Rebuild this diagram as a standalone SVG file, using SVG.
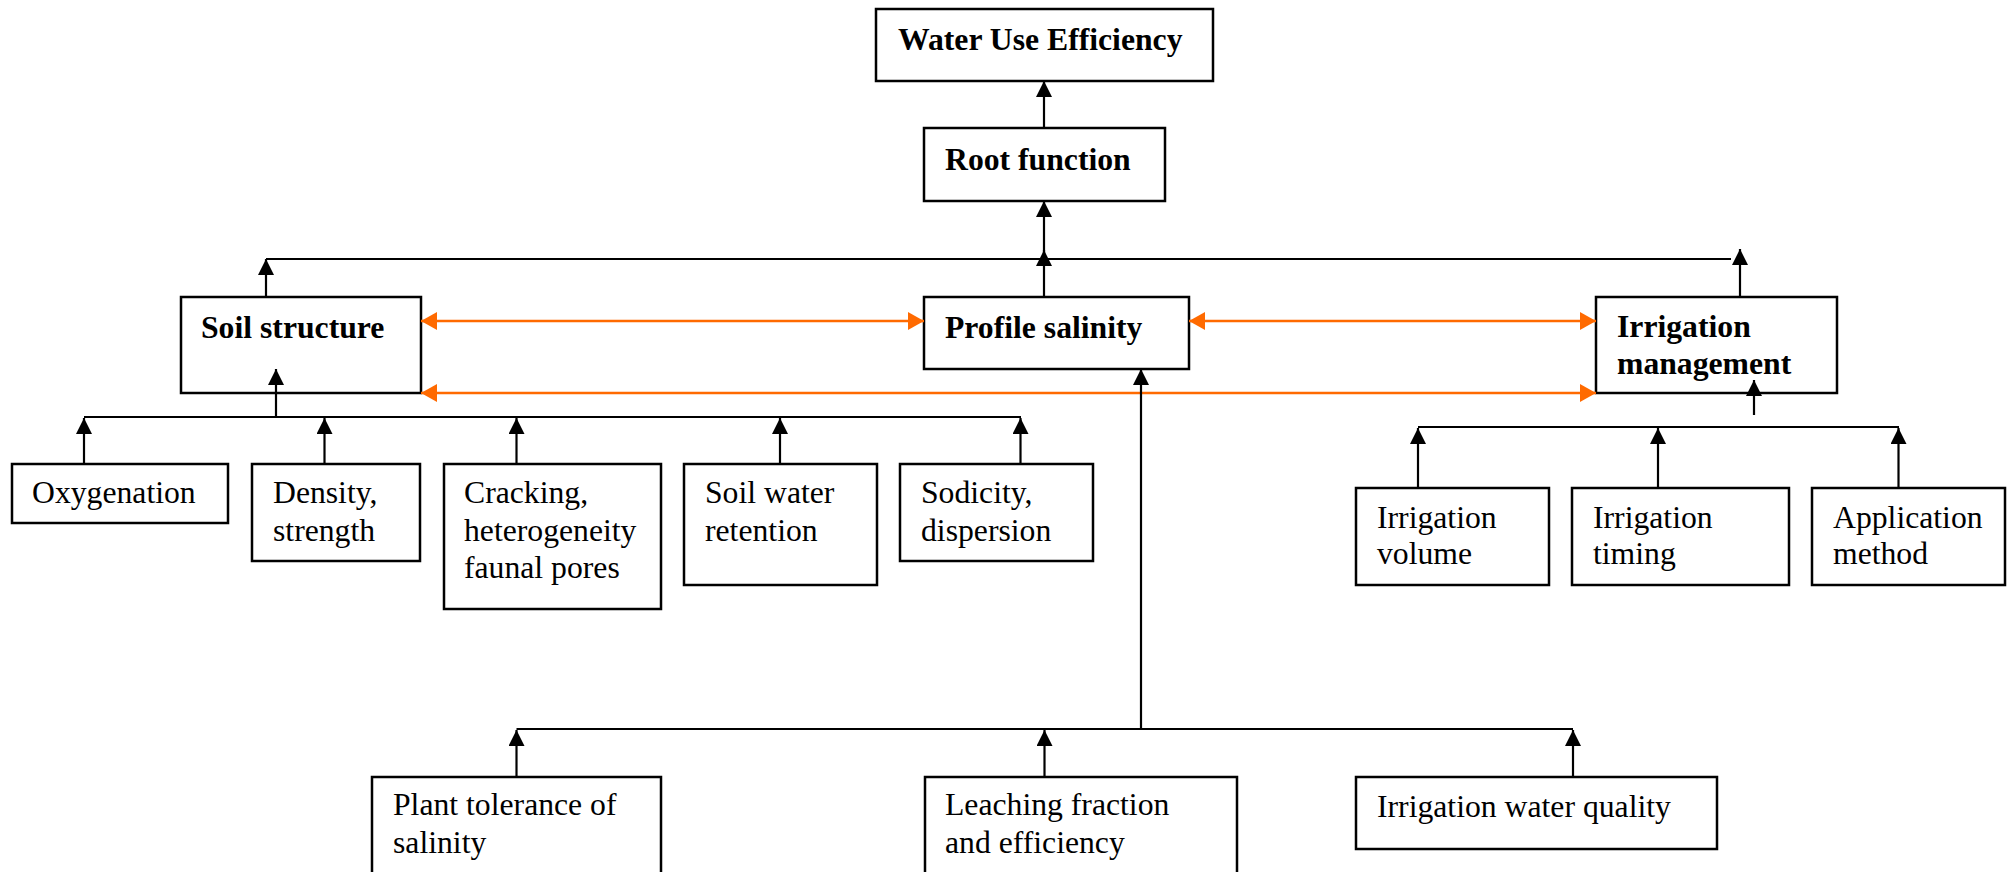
<svg xmlns="http://www.w3.org/2000/svg" width="2011" height="872" viewBox="0 0 2011 872">
<defs>
<style>
.box{fill:#fff;stroke:#000;stroke-width:2.5}
.t{font-family:"Liberation Serif","Times New Roman",serif;font-size:31.7px;fill:#000}
.b{font-weight:bold}
.ln{stroke:#000;stroke-width:2.2;fill:none}
.or{stroke:#FF6A00;stroke-width:2.6;fill:none}
</style>
<marker id="ah" markerUnits="userSpaceOnUse" viewBox="0 0 16 16" markerWidth="16" markerHeight="16" refX="16" refY="8" orient="auto">
<path d="M0,0 L16,8 L0,16 z" fill="#000"/>
</marker>
<marker id="oh" markerUnits="userSpaceOnUse" viewBox="0 0 16 18" markerWidth="16" markerHeight="18" refX="16" refY="9" orient="auto">
<path d="M0,0 L16,9 L0,18 z" fill="#FF6A00"/>
</marker>
<marker id="ohs" markerUnits="userSpaceOnUse" viewBox="0 0 16 18" markerWidth="16" markerHeight="18" refX="16" refY="9" orient="auto-start-reverse">
<path d="M0,0 L16,9 L0,18 z" fill="#FF6A00"/>
</marker>
</defs>
<rect width="2011" height="872" fill="#fff"/>

<g id="wue">
<rect class="box" x="876" y="9" width="337" height="72"/>
<text class="t b" x="898" y="50">Water Use Efficiency</text>
</g>
<g id="root">
<rect class="box" x="924" y="128" width="241" height="73"/>
<text class="t b" x="945" y="170">Root function</text>
</g>
<g id="soil">
<rect class="box" x="181" y="297" width="240" height="96"/>
<text class="t b" x="201" y="338">Soil structure</text>
</g>
<g id="profile">
<rect class="box" x="924" y="297" width="265" height="72"/>
<text class="t b" x="945" y="338">Profile salinity</text>
</g>
<g id="irrmgmt">
<rect class="box" x="1596" y="297" width="241" height="96"/>
<text class="t b" x="1617" y="337">Irrigation</text>
<text class="t b" x="1617" y="374">management</text>
</g>
<g id="oxygenation">
<rect class="box" x="12" y="464" width="216" height="59"/>
<text class="t" x="32" y="503">Oxygenation</text>
</g>
<g id="density">
<rect class="box" x="252" y="464" width="168" height="97"/>
<text class="t" x="273" y="503">Density,</text>
<text class="t" x="273" y="541">strength</text>
</g>
<g id="cracking">
<rect class="box" x="444" y="464" width="217" height="145"/>
<text class="t" x="464" y="503">Cracking,</text>
<text class="t" x="464" y="541">heterogeneity</text>
<text class="t" x="464" y="578">faunal pores</text>
</g>
<g id="soilwater">
<rect class="box" x="684" y="464" width="193" height="121"/>
<text class="t" x="705" y="503">Soil water</text>
<text class="t" x="705" y="541">retention</text>
</g>
<g id="sodicity">
<rect class="box" x="900" y="464" width="193" height="97"/>
<text class="t" x="921" y="503">Sodicity,</text>
<text class="t" x="921" y="541">dispersion</text>
</g>
<g id="irrvolume">
<rect class="box" x="1356" y="488" width="193" height="97"/>
<text class="t" x="1377" y="528">Irrigation</text>
<text class="t" x="1377" y="564">volume</text>
</g>
<g id="irrtiming">
<rect class="box" x="1572" y="488" width="217" height="97"/>
<text class="t" x="1593" y="528">Irrigation</text>
<text class="t" x="1593" y="564">timing</text>
</g>
<g id="appmethod">
<rect class="box" x="1812" y="488" width="193" height="97"/>
<text class="t" x="1833" y="528">Application</text>
<text class="t" x="1833" y="564">method</text>
</g>
<g id="planttol">
<rect class="box" x="372" y="777" width="289" height="110"/>
<text class="t" x="393" y="815">Plant tolerance of</text>
<text class="t" x="393" y="853">salinity</text>
</g>
<g id="leaching">
<rect class="box" x="925" y="777" width="312" height="110"/>
<text class="t" x="945" y="815">Leaching fraction</text>
<text class="t" x="945" y="853">and efficiency</text>
</g>
<g id="irrquality">
<rect class="box" x="1356" y="777" width="361" height="72"/>
<text class="t" x="1377" y="817">Irrigation water quality</text>
</g>

<g id="connectors">
<line class="ln" x1="1044" y1="128" x2="1044" y2="81" marker-end="url(#ah)"/>
<line class="ln" x1="1044" y1="259" x2="1044" y2="201" marker-end="url(#ah)"/>
<line class="ln" x1="1044" y1="297" x2="1044" y2="250" marker-end="url(#ah)"/>
<line class="ln" x1="266" y1="259" x2="1731" y2="259"/>
<line class="ln" x1="266" y1="297" x2="266" y2="259" marker-end="url(#ah)"/>
<line class="ln" x1="1740" y1="297" x2="1740" y2="249" marker-end="url(#ah)"/>
<line class="or" x1="421" y1="321" x2="924" y2="321" marker-start="url(#ohs)" marker-end="url(#oh)"/>
<line class="or" x1="1189" y1="321" x2="1596" y2="321" marker-start="url(#ohs)" marker-end="url(#oh)"/>
<line class="or" x1="421" y1="393" x2="1596" y2="393" marker-start="url(#ohs)" marker-end="url(#oh)"/>
<line class="ln" x1="276" y1="417" x2="276" y2="369" marker-end="url(#ah)"/>
<line class="ln" x1="84" y1="417" x2="1021" y2="417"/>
<line class="ln" x1="84" y1="464" x2="84" y2="418" marker-end="url(#ah)"/>
<line class="ln" x1="324.5" y1="464" x2="324.5" y2="418" marker-end="url(#ah)"/>
<line class="ln" x1="516.5" y1="464" x2="516.5" y2="418" marker-end="url(#ah)"/>
<line class="ln" x1="780" y1="464" x2="780" y2="418" marker-end="url(#ah)"/>
<line class="ln" x1="1020.5" y1="464" x2="1020.5" y2="418" marker-end="url(#ah)"/>
<line class="ln" x1="1754" y1="415" x2="1754" y2="380" marker-end="url(#ah)"/>
<line class="ln" x1="1418" y1="427" x2="1899" y2="427"/>
<line class="ln" x1="1418" y1="488" x2="1418" y2="428" marker-end="url(#ah)"/>
<line class="ln" x1="1658" y1="488" x2="1658" y2="428" marker-end="url(#ah)"/>
<line class="ln" x1="1898.5" y1="488" x2="1898.5" y2="428" marker-end="url(#ah)"/>
<line class="ln" x1="1141" y1="729" x2="1141" y2="369" marker-end="url(#ah)"/>
<line class="ln" x1="516.5" y1="729" x2="1573" y2="729"/>
<line class="ln" x1="516.5" y1="777" x2="516.5" y2="730" marker-end="url(#ah)"/>
<line class="ln" x1="1044.5" y1="777" x2="1044.5" y2="730" marker-end="url(#ah)"/>
<line class="ln" x1="1573" y1="777" x2="1573" y2="730" marker-end="url(#ah)"/>
</g>
</svg>
